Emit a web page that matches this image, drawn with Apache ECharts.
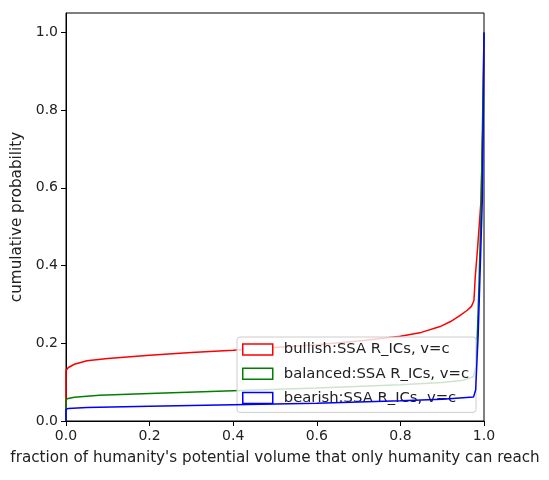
<!DOCTYPE html>
<html>
<head>
<meta charset="utf-8">
<script src="https://cdn.jsdelivr.net/npm/echarts@6/dist/echarts.min.js"></script>
<style>
  html, body { margin: 0; padding: 0; background: #fff; }
  #main { width: 549px; height: 480px; }
</style>
</head>
<body>
<div id="main"></div>
<script>
// cumulative curves
var seriesNames = ['bullish:SSA R_ICs, v=c', 'balanced:SSA R_ICs, v=c', 'bearish:SSA R_ICs, v=c'];
var seriesColors = ['#ff0000', '#008000', '#0000ff'];

var bullishX = [0, 0, 0.005, 0.02, 0.05, 0.1, 0.2, 0.3, 0.4, 0.5, 0.6, 0.7, 0.8, 0.85, 0.895, 0.92, 0.943, 0.96, 0.97, 0.976, 0.979, 0.985, 0.993, 0.997, 1.0];
var bullishY = [0, 0.13, 0.137, 0.146, 0.155, 0.161, 0.169, 0.176, 0.182, 0.189, 0.196, 0.206, 0.218, 0.228, 0.243, 0.256, 0.272, 0.285, 0.295, 0.31, 0.37, 0.45, 0.57, 0.75, 1.0];

var balancedX = [0, 0, 0.005, 0.02, 0.08, 0.2, 0.4, 0.6, 0.8, 0.9, 0.95, 0.975, 0.98, 0.984, 0.988, 0.993, 0.997, 1.0];
var balancedY = [0, 0.055, 0.058, 0.061, 0.066, 0.071, 0.078, 0.085, 0.093, 0.099, 0.105, 0.114, 0.14, 0.22, 0.35, 0.55, 0.8, 1.0];

var bearishX = [0, 0, 0.005, 0.05, 0.2, 0.4, 0.6, 0.8, 0.9, 0.95, 0.975, 0.98, 0.983, 0.986, 0.99, 0.996, 0.999, 1.0];
var bearishY = [0, 0.03, 0.032, 0.035, 0.038, 0.042, 0.046, 0.052, 0.056, 0.06, 0.062, 0.08, 0.15, 0.22, 0.36, 0.57, 0.85, 1.0];

var xTicks = [0, 0.2, 0.4, 0.6, 0.8, 1.0];
var yTicks = [0, 0.2, 0.4, 0.6, 0.8, 1.0];

function pairs(xs, ys) {
    var out = [];
    for (var i = 0; i < xs.length; i++) out.push([xs[i], ys[i]]);
    return out;
}

var curves = [pairs(bullishX, bullishY), pairs(balancedX, balancedY), pairs(bearishX, bearishY)];

var font = 'DejaVu Sans';
var myChart = echarts.init(document.getElementById('main'), null, { renderer: 'canvas' });

myChart.setOption({
    animation: false,
    grid: {
        left: 66, right: 65, top: 13, bottom: 59,
        show: true, borderColor: '#000', borderWidth: 1
    },
    legend: {
        orient: 'vertical',
        left: 237, top: 337,
        icon: 'rect',
        itemWidth: 30, itemHeight: 11, itemGap: 9.2,
        padding: [5, 7, 7, 5],
        backgroundColor: 'rgba(255,255,255,0.8)',
        borderColor: '#cccccc', borderWidth: 1, borderRadius: 3,
        textStyle: { fontFamily: font, fontSize: 14.8, color: '#222', padding: [0, 0, 0, 6] },
        data: seriesNames.map(function (n, i) {
            return { name: n, itemStyle: { color: '#fff', borderColor: seriesColors[i], borderWidth: 1.5 } };
        })
    },
    xAxis: {
        type: 'value', min: 0, max: 1, interval: 0.2,
        name: "fraction of humanity's potential volume that only humanity can reach",
        nameLocation: 'middle', nameGap: 30,
        nameTextStyle: { fontFamily: font, fontSize: 15.2, color: '#222' },
        axisLine: { show: true, lineStyle: { color: '#000', width: 1 } },
        axisTick: { show: true, length: 5, lineStyle: { color: '#000' }, customValues: xTicks },
        axisLabel: { fontFamily: font, fontSize: 14, color: '#222', margin: 8, customValues: xTicks,
            formatter: function (v) { return v.toFixed(1); } },
        splitLine: { show: false }
    },
    yAxis: {
        type: 'value', min: 0, max: 1.05,
        name: 'cumulative probability',
        nameLocation: 'middle', nameGap: 41,
        nameTextStyle: { fontFamily: font, fontSize: 15.2, color: '#222' },
        axisLine: { show: true, lineStyle: { color: '#000', width: 1 } },
        axisTick: { show: true, length: 5, lineStyle: { color: '#000' }, customValues: yTicks },
        axisLabel: { fontFamily: font, fontSize: 14, color: '#222', margin: 8, customValues: yTicks,
            formatter: function (v) { return v.toFixed(1); } },
        splitLine: { show: false }
    },
    series: curves.map(function (d, i) {
        return {
            name: seriesNames[i],
            type: 'line',
            data: d,
            showSymbol: false,
            smooth: false,
            lineStyle: { color: seriesColors[i], width: 1.5 },
            itemStyle: { color: seriesColors[i] },
            z: 2 + i
        };
    })
});
</script>
</body>
</html>
